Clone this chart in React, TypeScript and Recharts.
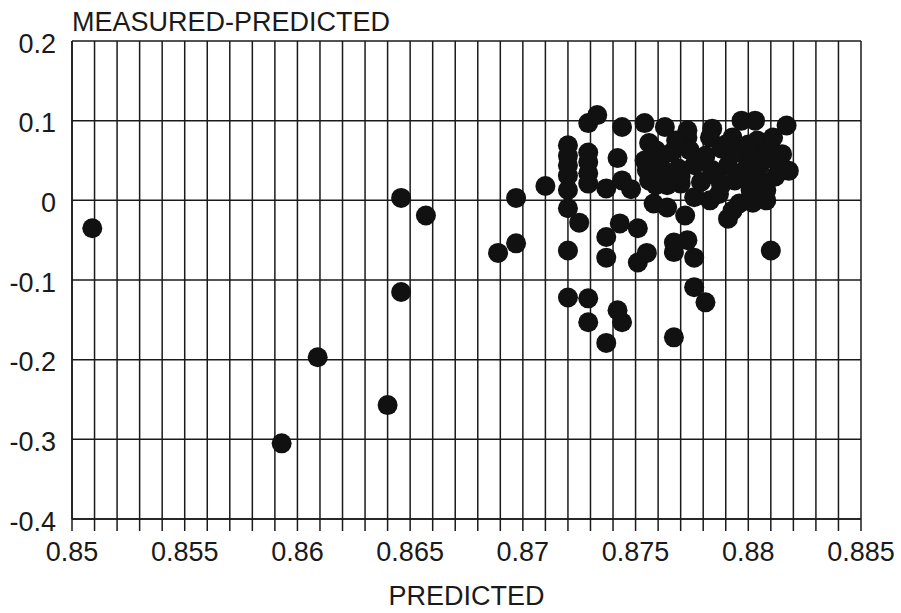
import { ScatterChart, Scatter, XAxis, YAxis, CartesianGrid } from 'recharts';

const predicted = [
  0.8509, 0.8593, 0.8609, 0.864, 0.8646, 0.8646, 0.8657, 0.8689, 0.8697, 0.8697,
  0.871, 0.872, 0.872, 0.872, 0.872, 0.872, 0.872, 0.8725, 0.872, 0.872,
  0.8729, 0.8733, 0.8729, 0.8729, 0.8729, 0.8729, 0.8729, 0.8729, 0.8744, 0.8742,
  0.8737, 0.8744, 0.8748, 0.8743, 0.8737, 0.8737, 0.8742, 0.8744, 0.8737, 0.8751,
  0.8751, 0.8755, 0.8754, 0.8758, 0.8764, 0.8772, 0.8767, 0.8773, 0.8767, 0.8776,
  0.8791, 0.8793, 0.8802, 0.8808, 0.881, 0.8776, 0.8781, 0.8767, 0.8763, 0.8773,
  0.8784, 0.8797, 0.8817, 0.8803, 0.8756, 0.8755, 0.8773, 0.8783, 0.8793, 0.8804,
  0.8811, 0.8818, 0.8808, 0.8801, 0.8796, 0.8783, 0.8776, 0.877, 0.8759, 0.8766,
  0.8774, 0.8781, 0.8788, 0.8795, 0.8802, 0.8809, 0.8761, 0.8769, 0.8776, 0.8784,
  0.8791, 0.8799, 0.8805, 0.8812, 0.8759, 0.8764, 0.8779, 0.8788, 0.8794, 0.8805,
  0.8754, 0.8756, 0.8779, 0.8786, 0.8798, 0.877, 0.879, 0.8763, 0.88, 0.8815,
  0.8812, 0.8768, 0.8787,
];

const residual = [
  -0.035, -0.305, -0.197, -0.257, 0.003, -0.115, -0.019, -0.066, -0.054, 0.003,
  0.018, 0.069, 0.056, 0.044, 0.031, 0.013, -0.01, -0.028, -0.063, -0.122,
  0.097, 0.107, 0.06, 0.048, 0.034, 0.021, -0.123, -0.153, 0.092, 0.053,
  0.015, 0.025, 0.014, -0.029, -0.046, -0.072, -0.138, -0.153, -0.179, -0.035,
  -0.078, -0.066, 0.097, -0.004, -0.009, -0.019, -0.053, -0.05, -0.065, -0.072,
  -0.023, -0.013, -0.003, 0.0, -0.063, -0.109, -0.128, -0.172, 0.092, 0.088,
  0.09, 0.1, 0.094, 0.1, 0.072, 0.038, 0.079, 0.079, 0.079, 0.075,
  0.079, 0.037, 0.013, 0.013, -0.004, 0.0, 0.004, 0.021, 0.063, 0.06,
  0.063, 0.056, 0.065, 0.06, 0.056, 0.06, 0.044, 0.04, 0.044, 0.038,
  0.044, 0.04, 0.044, 0.05, 0.019, 0.019, 0.023, 0.019, 0.025, 0.025,
  0.05, 0.025, 0.05, 0.03, 0.03, 0.03, 0.07, 0.03, 0.07, 0.058,
  0.03, 0.075, 0.008,
];

const xTicks = [
  0.85, 0.851, 0.852, 0.853, 0.854, 0.855, 0.856, 0.857, 0.858, 0.859,
  0.86, 0.861, 0.862, 0.863, 0.864, 0.865, 0.866, 0.867, 0.868, 0.869,
  0.87, 0.871, 0.872, 0.873, 0.874, 0.875, 0.876, 0.877, 0.878, 0.879,
  0.88, 0.881, 0.882, 0.883, 0.884, 0.885,
];
const xLabels = ['0.85', '0.855', '0.86', '0.865', '0.87', '0.875', '0.88', '0.885'];
const yTicks = [-0.4, -0.3, -0.2, -0.1, 0, 0.1, 0.2];

const points = predicted.map((x, i) => ({ x, y: residual[i] }));

const INK = '#1a1a1a';
const FONT = '"Liberation Sans", Arial, Helvetica, sans-serif';

const Dot = (props: any) => <circle cx={props.cx} cy={props.cy} r={10} fill="#111" />;

export default function App() {
  return (
    <div style={{ position: 'absolute', left: 0, top: 0, width: 901, height: 613, background: '#fff', fontFamily: FONT }}>
      <div style={{ position: 'absolute', left: 72, top: 9, fontSize: 27, lineHeight: '27px', color: INK, whiteSpace: 'nowrap' }}>
        MEASURED-PREDICTED
      </div>
      <ScatterChart width={901} height={613} margin={{ top: 41, right: 40, bottom: 0, left: 0 }}>
        <CartesianGrid stroke={INK} strokeWidth={1.5} />
        <XAxis
          type="number"
          dataKey="x"
          domain={[0.85, 0.885]}
          ticks={xTicks}
          interval={0}
          allowDataOverflow
          height={94}
          tickSize={12}
          tickMargin={11}
          axisLine={{ stroke: INK, strokeWidth: 1.5 }}
          tickLine={{ stroke: INK, strokeWidth: 1.5 }}
          tick={{ fill: INK, fontSize: 27, fontFamily: FONT }}
          tickFormatter={(v: number) => {
            const s = String(v);
            return xLabels.includes(s) ? s : '';
          }}
          label={{ value: 'PREDICTED', position: 'insideBottom', offset: 8, fill: INK, fontSize: 27, fontFamily: FONT }}
        />
        <YAxis
          type="number"
          dataKey="y"
          domain={[-0.4, 0.2]}
          ticks={yTicks}
          interval={0}
          allowDataOverflow
          width={72}
          tickSize={0}
          tickMargin={16}
          axisLine={{ stroke: INK, strokeWidth: 1.5 }}
          tickLine={false}
          tick={{ fill: INK, fontSize: 27, fontFamily: FONT, dy: 2 }}
          tickFormatter={(v: number) => String(v)}
        />
        <Scatter data={points} shape={Dot} isAnimationActive={false} />
      </ScatterChart>
    </div>
  );
}
